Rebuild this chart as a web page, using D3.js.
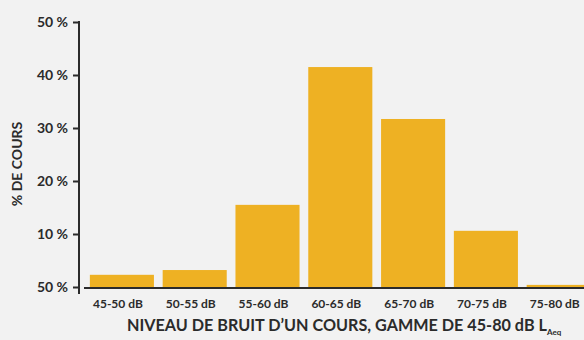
<!DOCTYPE html>
<html>
<head>
<meta charset="utf-8">
<script src="https://cdn.jsdelivr.net/npm/d3@7"></script>
<style>
  html, body { margin: 0; padding: 0; background: #f2f2f2; }
  svg { display: block; }
  text { font-family: Lato, "Open Sans", sans-serif; font-weight: 700; fill: #2b2b2b; }
</style>
</head>
<body>
<svg id="chart" width="584" height="340"></svg>
<script>
// Share of classes per noise-level band
const categories = ["45-50 dB", "50-55 dB", "55-60 dB", "60-65 dB", "65-70 dB", "70-75 dB", "75-80 dB"];
const shares = [2.3, 3.2, 15.5, 41.5, 31.7, 10.6, 0.4];
const tickValues = [0, 10, 20, 30, 40, 50];
const tickLabels = ["50 %", "10 %", "20 %", "30 %", "40 %", "50 %"];

const svg = d3.select("#chart");
const W = 584, H = 340;
const m = { left: 79, top: 22, bottom: 287 };

const x = d3.scaleBand()
  .domain(categories)
  .range([85.5, 85.5 + 72.8 * categories.length])
  .paddingInner(0.12)
  .paddingOuter(0.06);

const y = d3.scaleLinear().domain([0, 50]).range([m.bottom, m.top]);

// bars
svg.append("g")
  .selectAll("rect")
  .data(shares)
  .join("rect")
  .attr("x", (d, i) => x(categories[i]))
  .attr("y", d => y(d))
  .attr("width", x.bandwidth())
  .attr("height", d => y(0) - y(d))
  .attr("fill", "#eeb123");

// baseline
svg.append("line")
  .attr("x1", 84).attr("x2", W)
  .attr("y1", y(0) + 1).attr("y2", y(0) + 1)
  .attr("stroke", "#2b2b2b").attr("stroke-width", 2);

// y axis
const yAxis = d3.axisLeft(y)
  .tickValues(tickValues)
  .tickFormat((d, i) => tickLabels[i])
  .tickSize(6)
  .tickPadding(5);

const gy = svg.append("g").attr("transform", `translate(${m.left},0)`).call(yAxis);
gy.select(".domain").remove();
gy.selectAll(".tick line").attr("stroke", "#2b2b2b").attr("stroke-width", 2);
gy.selectAll(".tick text")
  .style("font-family", "Lato, 'Open Sans', sans-serif")
  .style("font-weight", 700)
  .attr("font-size", 14)
  .attr("fill", "#2b2b2b");

gy.append("line")
  .attr("x1", 0).attr("x2", 0)
  .attr("y1", m.top - 1).attr("y2", 294)
  .attr("stroke", "#2b2b2b").attr("stroke-width", 2);

// x axis labels
const xAxis = d3.axisBottom(x).tickSize(0).tickPadding(10);
const gx = svg.append("g").attr("transform", `translate(-4,${y(0) + 2})`).call(xAxis);
gx.select(".domain").remove();
gx.selectAll(".tick text")
  .style("font-family", "Lato, 'Open Sans', sans-serif")
  .style("font-weight", 700)
  .attr("font-size", 12)
  .attr("fill", "#2b2b2b");

// y title
svg.append("text")
  .attr("transform", "translate(22,164) rotate(-90)")
  .attr("text-anchor", "middle")
  .attr("font-size", 14)
  .text("% DE COURS");

// x title with subscript
const xt = svg.append("text")
  .attr("x", 127)
  .attr("y", 331)
  .attr("font-size", 16.2);
xt.append("tspan").text("NIVEAU DE BRUIT D\u2019UN COURS, GAMME DE 45-80 dB L");
xt.append("tspan").attr("dy", 4).attr("font-size", 8).text("Aeq");
</script>
</body>
</html>
